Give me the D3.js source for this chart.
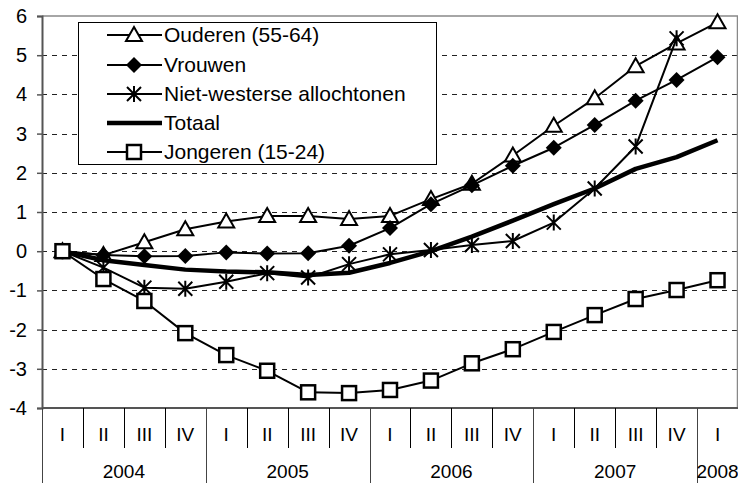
<!DOCTYPE html>
<html><head><meta charset="utf-8">
<script src="https://cdn.jsdelivr.net/npm/d3@7"></script>
<style>body{margin:0;background:#fff}svg{display:block;font-family:"Liberation Sans",Arial,sans-serif}</style>
</head><body><svg id="c" width="738" height="483"></svg>
<script>
const quarters = ["I","II","III","IV","I","II","III","IV","I","II","III","IV","I","II","III","IV","I"];
const years = ["2004","2005","2006","2007","2008"];
const yearSpans = [4,4,4,4,1];
const yTicks = [-4,-3,-2,-1,0,1,2,3,4,5,6];
const ouderen = [0,-0.1,0.23,0.56,0.76,0.9,0.9,0.82,0.9,1.33,1.72,2.44,3.2,3.9,4.72,5.3,5.84];
const vrouwen = [0,-0.1,-0.13,-0.12,-0.03,-0.06,-0.05,0.14,0.59,1.2,1.68,2.18,2.64,3.22,3.84,4.37,4.95];
const nietWesters = [0,-0.42,-0.93,-0.96,-0.78,-0.56,-0.67,-0.33,-0.08,0.03,0.16,0.26,0.73,1.6,2.67,5.43,null];
const totaal = [0,-0.23,-0.35,-0.47,-0.52,-0.54,-0.61,-0.55,-0.3,0.0,0.37,0.78,1.2,1.6,2.1,2.4,2.83];
const jongeren = [0,-0.71,-1.27,-2.09,-2.65,-3.05,-3.6,-3.62,-3.54,-3.3,-2.86,-2.5,-2.06,-1.63,-1.22,-0.99,-0.74];
const seriesNames = ["Ouderen (55-64)","Vrouwen","Niet-westerse allochtonen","Totaal","Jongeren (15-24)"];

const FONT = "'Liberation Sans', Arial, sans-serif";
const FS = 20;
const svg = d3.select("#c");
const L=42, R=738, T=16, B=408;
const x = d3.scaleBand().domain(d3.range(quarters.length)).range([L,R]);
const y = d3.scaleLinear().domain([-4,6]).range([B,T]);
const cx = i => x(i) + x.bandwidth()/2;

// gridlines
svg.append("g").selectAll("line").data(yTicks.filter(v=>v>-4 && v<6)).join("line")
  .attr("x1",L).attr("x2",R).attr("y1",d=>Math.round(y(d))+0.5).attr("y2",d=>Math.round(y(d))+0.5)
  .attr("stroke","#222").attr("stroke-width",1).attr("stroke-dasharray","5,5");
// plot border top/right
svg.append("line").attr("x1",L).attr("x2",R).attr("y1",y(6)).attr("y2",y(6)).attr("stroke","#888").attr("stroke-width",1.5);
svg.append("line").attr("x1",R-0.5).attr("x2",R-0.5).attr("y1",T).attr("y2",B).attr("stroke","#888").attr("stroke-width",1.5);

// y axis
const ya = svg.append("g").attr("transform",`translate(${L},0)`)
  .call(d3.axisLeft(y).tickValues(yTicks).tickSize(5).tickPadding(10).tickFormat(d=>String(d)));
ya.select(".domain").attr("stroke","#555").attr("stroke-width",2);
ya.selectAll(".tick line").attr("stroke","#555").attr("stroke-width",1.5);
ya.selectAll("text").attr("font-size",FS).attr("fill","#000").attr("font-family",FONT);

// x axis line
svg.append("line").attr("x1",L).attr("x2",R).attr("y1",B).attr("y2",B).attr("stroke","#555").attr("stroke-width",2);
const yearStarts = []; {let s=0; yearSpans.forEach(n=>{yearStarts.push(s); s+=n;});}
svg.append("g").selectAll("line").data(d3.range(quarters.length)).join("line")
  .attr("x1",i=>Math.round(x(i))+0.5).attr("x2",i=>Math.round(x(i))+0.5)
  .attr("y1",B).attr("y2",i=>yearStarts.includes(i)?483:448)
  .attr("stroke",i=>yearStarts.includes(i)?"#444":"#000").attr("stroke-width",1);
svg.append("g").selectAll("text").data(quarters).join("text")
  .attr("x",(d,i)=>cx(i)).attr("y",441).attr("text-anchor","middle")
  .attr("font-size",FS-1).attr("font-family",FONT).text(d=>d);
svg.append("g").selectAll("text").data(years).join("text")
  .attr("x",(d,i)=>{const s=yearStarts[i], e=s+yearSpans[i]; return (x(s)+ (e<quarters.length? x(e): R))/2;})
  .attr("y",478).attr("text-anchor","middle").attr("font-size",FS-1).attr("font-family",FONT).text(d=>d);

function marker(g, type, px, py){
  if(type==="tri"){
    g.append("path").attr("d",`M${px},${py-8}L${px+8},${py+6}L${px-8},${py+6}Z`)
     .attr("fill","#fff").attr("stroke","#000").attr("stroke-width",2);
  } else if(type==="dia"){
    g.append("path").attr("d",`M${px},${py-8}L${px+8},${py}L${px},${py+8}L${px-8},${py}Z`).attr("fill","#000");
  } else if(type==="ast"){
    const s=7;
    g.append("path").attr("d",`M${px},${py-s-1}V${py+s+1}M${px-s},${py-s}L${px+s},${py+s}M${px+s},${py-s}L${px-s},${py+s}`)
     .attr("stroke","#000").attr("stroke-width",2).attr("fill","none");
  } else if(type==="sq"){
    g.append("rect").attr("x",px-7).attr("y",py-7).attr("width",14).attr("height",14)
     .attr("fill","#fff").attr("stroke","#000").attr("stroke-width",2.5);
  }
}
const series = [
  {name:seriesNames[0], data:ouderen, m:"tri", w:2},
  {name:seriesNames[1], data:vrouwen, m:"dia", w:2},
  {name:seriesNames[2], data:nietWesters, m:"ast", w:2},
  {name:seriesNames[3], data:totaal, m:null, w:4.5},
  {name:seriesNames[4], data:jongeren, m:"sq", w:2}
];
const line = d3.line().defined(d=>d!=null).x((d,i)=>cx(i)).y(d=>y(d));
series.forEach(s=>{
  const g = svg.append("g");
  g.append("path").datum(s.data).attr("d",line).attr("fill","none").attr("stroke","#000")
   .attr("stroke-width",s.w).attr("stroke-linejoin","round");
  if(s.m) s.data.forEach((v,i)=>{ if(v!=null) marker(g,s.m,cx(i),y(v)); });
});

// legend
const lg = svg.append("g");
lg.append("rect").attr("x",78.5).attr("y",22.5).attr("width",358).attr("height",142)
  .attr("fill","#fff").attr("stroke","#000").attr("stroke-width",1);
const rowY = [35,65,94,123,152];
series.forEach((s,k)=>{
  const yy=rowY[k];
  lg.append("line").attr("x1",107).attr("x2",162).attr("y1",yy).attr("y2",yy)
    .attr("stroke","#000").attr("stroke-width",s.w);
  if(s.m) marker(lg,s.m,134,yy);
  lg.append("text").attr("x",164).attr("y",yy+7).attr("font-size",21).attr("font-family",FONT).text(s.name);
});
</script></body></html>
